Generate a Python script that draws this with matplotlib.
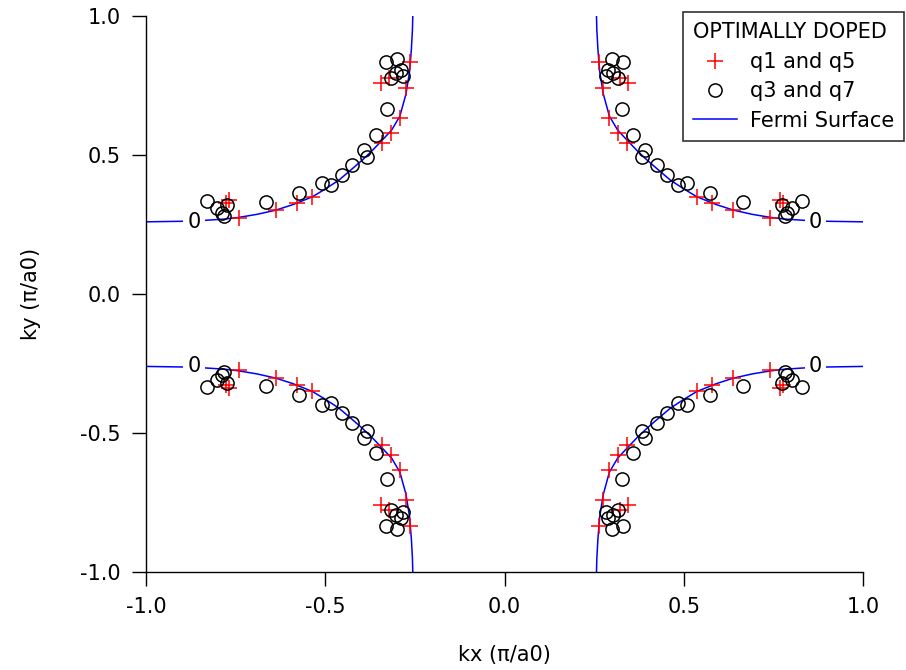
import numpy as np
import matplotlib
matplotlib.use('Agg')
import matplotlib.pyplot as plt

# first-quadrant readings (data is symmetric in kx and ky)
q15_kx = [0.264, 0.275, 0.322, 0.344, 0.291, 0.317, 0.342, 0.537, 0.579, 0.637, 0.741, 0.768, 0.777]
q15_ky = [0.835, 0.741, 0.777, 0.759, 0.633, 0.579, 0.543, 0.349, 0.327, 0.302, 0.273, 0.338, 0.327]

q37_kx = [0.300, 0.331, 0.289, 0.303, 0.283, 0.317, 0.328, 0.358, 0.392, 0.384, 0.425, 0.453,
          0.484, 0.509, 0.573, 0.665, 0.774, 0.788, 0.802, 0.782, 0.830]
q37_ky = [0.845, 0.835, 0.806, 0.795, 0.784, 0.777, 0.665, 0.572, 0.518, 0.493, 0.464, 0.428,
          0.392, 0.399, 0.363, 0.331, 0.320, 0.291, 0.309, 0.281, 0.335]

fs_kx = [0.256, 0.257, 0.260, 0.265, 0.275, 0.292, 0.315, 0.341, 0.370, 0.397, 0.430, 0.462,
         0.500, 0.536, 0.590, 0.638, 0.690, 0.741, 0.780, 0.840, 0.900, 1.000]
fs_ky = [1.000, 0.950, 0.880, 0.800, 0.720, 0.640, 0.590, 0.554, 0.515, 0.482, 0.445, 0.410,
         0.378, 0.350, 0.322, 0.302, 0.287, 0.276, 0.270, 0.265, 0.262, 0.260]

label_pos = (0.866, 0.259)
signs = [(1, 1), (-1, 1), (1, -1), (-1, -1)]

FS = 15

fig = plt.figure(figsize=(9.06, 6.70), dpi=100)
ax = fig.add_axes([0.161, 0.146, 0.792, 0.830])

for i, (sx, sy) in enumerate(signs):
    ax.plot(sx * np.array(fs_kx), sy * np.array(fs_ky), color='#0000ff', lw=1.1, zorder=1,
            label='Fermi Surface' if i == 0 else None)
    ax.plot(sx * np.array(q15_kx), sy * np.array(q15_ky), ls='none', marker='+', ms=11,
            mew=1.1, color='#ff0000', zorder=2, label='q1 and q5' if i == 0 else None)
    ax.plot(sx * np.array(q37_kx), sy * np.array(q37_ky), ls='none', marker='o', ms=9.5,
            mfc='none', mec='black', mew=1.1, zorder=3, label='q3 and q7' if i == 0 else None)
    # contour level label, cutting the line like the original
    ax.text(sx * label_pos[0], sy * label_pos[1], '0', fontsize=FS, ha='center', va='center',
            zorder=4, bbox=dict(facecolor='white', edgecolor='none', pad=3))

ax.set_xlim(-1, 1)
ax.set_ylim(-1, 1)
ax.set_xticks([-1, -0.5, 0, 0.5, 1])
ax.set_yticks([-1, -0.5, 0, 0.5, 1])
ax.xaxis.set_major_formatter(matplotlib.ticker.FormatStrFormatter('%.1f'))
ax.yaxis.set_major_formatter(matplotlib.ticker.FormatStrFormatter('%.1f'))
ax.tick_params(direction='out', length=10, width=1, labelsize=FS, pad=8)
for side in ['top', 'right']:
    ax.spines[side].set_visible(False)
ax.spines['left'].set_linewidth(1)
ax.spines['bottom'].set_linewidth(1)

ax.set_xlabel('kx (\u03c0/a0)', fontsize=FS, labelpad=20)
ax.set_ylabel('ky (\u03c0/a0)', fontsize=FS, labelpad=28)

handles, labels = ax.get_legend_handles_labels()
order = [labels.index('q1 and q5'), labels.index('q3 and q7'), labels.index('Fermi Surface')]
leg = fig.legend([handles[i] for i in order], [labels[i] for i in order],
                 title='OPTIMALLY DOPED', loc='upper right', bbox_to_anchor=(0.998, 0.982),
                 fontsize=FS, title_fontsize=FS, frameon=True, fancybox=False,
                 edgecolor='black', handlelength=2.1, borderpad=0.5, labelspacing=0.45,
                 handletextpad=0.6, borderaxespad=0)
leg._legend_box.align = 'left'
leg.get_frame().set_linewidth(1.2)

fig.savefig('out.png', dpi=100)
